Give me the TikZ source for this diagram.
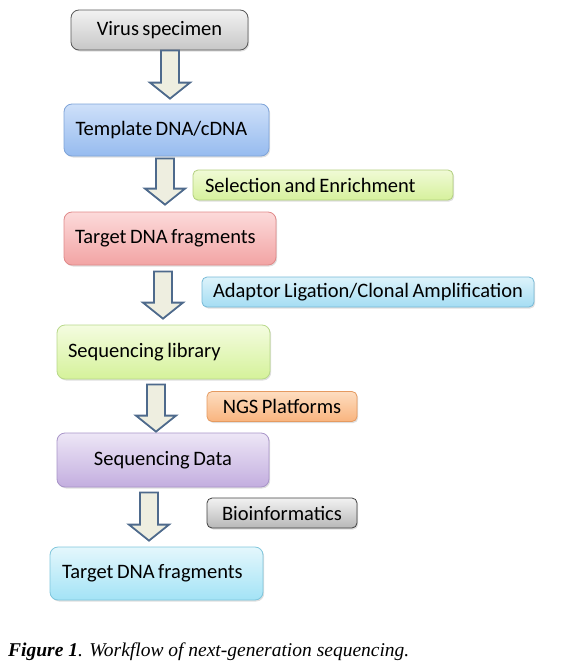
\documentclass[tikz,border=0pt]{standalone}
\usepackage{fontspec}
\setmainfont{Carlito}[WordSpace=0.75]
\newfontfamily\capfont{Liberation Serif}
\usetikzlibrary{calc,shadows}

\definecolor{arrline}{HTML}{4E6A8C}
\definecolor{arrfill}{HTML}{EEEEE0}

\tikzset{
  box/.style={draw, rounded corners=8pt, line width=0.8pt,
    font=\fontsize{20.5}{23}\selectfont, inner xsep=12pt,
    drop shadow={opacity=0.25, shadow xshift=1.2pt, shadow yshift=-1.5pt}},
  tag/.style={box, rounded corners=5pt, minimum height=30pt},
  flowarr/.style={draw=arrline, fill=arrfill, line width=1.8pt, line join=miter}
}

\newcommand{\flowarrow}[5]{%
  \draw[flowarr] let \p1=(#2.south), \p2=(#3.north) in
    ({#1pt-9pt},{\y1-#4pt}) -- ({#1pt+9pt},{\y1-#4pt})
    -- ({#1pt+9pt},{\y2+#5pt+16pt}) -- ({#1pt+20pt},{\y2+#5pt+16pt})
    -- (#1pt,{\y2+#5pt}) -- ({#1pt-20pt},{\y2+#5pt+16pt})
    -- ({#1pt-9pt},{\y2+#5pt+16pt}) -- cycle;}

\begin{document}
\begin{tikzpicture}[x=1pt,y=-1pt]
    \useasboundingbox (0,0) rectangle (561,672);

    % main stages
    \node[box, minimum width=177pt, minimum height=40pt, draw=black!65,
          top color=black!5, bottom color=black!22] (vir) at (159.5,30) {Virus specimen};
    \node[box, text width=182pt, minimum height=52pt, align=flush left, inner xsep=11.5pt,
          draw={rgb,255:red,126;green,163;blue,216},
          top color={rgb,255:red,206;green,224;blue,249}, bottom color={rgb,255:red,150;green,187;blue,239}]
          (tmpl) at (166.5,130) {Template DNA/cDNA};
    \node[box, text width=190pt, minimum height=53pt, align=flush left, inner xsep=11pt, draw={rgb,255:red,224;green,138;blue,138},
          top color={rgb,255:red,252;green,218;blue,218}, bottom color={rgb,255:red,242;green,164;blue,164}]
          (tgt) at (170,238.5) {Target DNA fragments};
    \node[box, text width=191pt, minimum height=54pt, align=flush left, inner xsep=11pt, draw={rgb,255:red,184;green,216;blue,138},
          top color={rgb,255:red,244;green,252;blue,224}, bottom color={rgb,255:red,213;green,242;blue,154}]
          (lib) at (163.5,352) {Sequencing library};
    \node[box, minimum width=212pt, minimum height=54pt, draw={rgb,255:red,168;green,148;blue,200},
          top color={rgb,255:red,237;green,230;blue,246}, bottom color={rgb,255:red,195;green,174;blue,223}]
          (dat) at (163,460) {Sequencing Data};
    \node[box, text width=189pt, minimum height=53pt, align=flush left, draw={rgb,255:red,127;green,198;blue,220},
          top color={rgb,255:red,228;green,247;blue,252}, bottom color={rgb,255:red,163;green,227;blue,246}]
          (fin) at (156.5,573.5) {Target DNA fragments};

    % side labels
    \node[tag, text width=236pt, align=flush left, draw={rgb,255:red,178;green,207;blue,126},
          top color={rgb,255:red,240;green,250;blue,214}, bottom color={rgb,255:red,214;green,241;blue,156}]
          (sel) at (323,185) {Selection and Enrichment};
    \node[tag, minimum width=332pt, inner xsep=4pt, draw={rgb,255:red,118;green,185;blue,214},
          top color={rgb,255:red,221;green,243;blue,251}, bottom color={rgb,255:red,164;green,221;blue,243}]
          (ada) at (368,292) {Adaptor Ligation/Clonal Amplification};
    \node[tag, minimum width=150pt, draw={rgb,255:red,229;green,154;blue,96},
          top color={rgb,255:red,253;green,221;blue,192}, bottom color={rgb,255:red,249;green,180;blue,126}]
          (ngs) at (282,406.5) {NGS Platforms};
    \node[tag, minimum width=150pt, draw=black!75,
          top color=black!5, bottom color=black!28] (bio) at (282,513) {Bioinformatics};

    % block arrows
    \flowarrow{170}{vir}{tmpl}{0}{5}
    \flowarrow{165}{tmpl}{tgt}{2}{7}
    \flowarrow{163}{tgt}{lib}{6}{6}
    \flowarrow{156}{lib}{dat}{5}{1}
    \flowarrow{149}{dat}{fin}{5}{6}

    \node[anchor=west, inner sep=0pt] (cap) at (8,652)
        {\capfont\fontsize{19.5}{22}\selectfont\itshape\textbf{Figure 1}. Workflow of next-generation sequencing.};
\end{tikzpicture}
\end{document}
